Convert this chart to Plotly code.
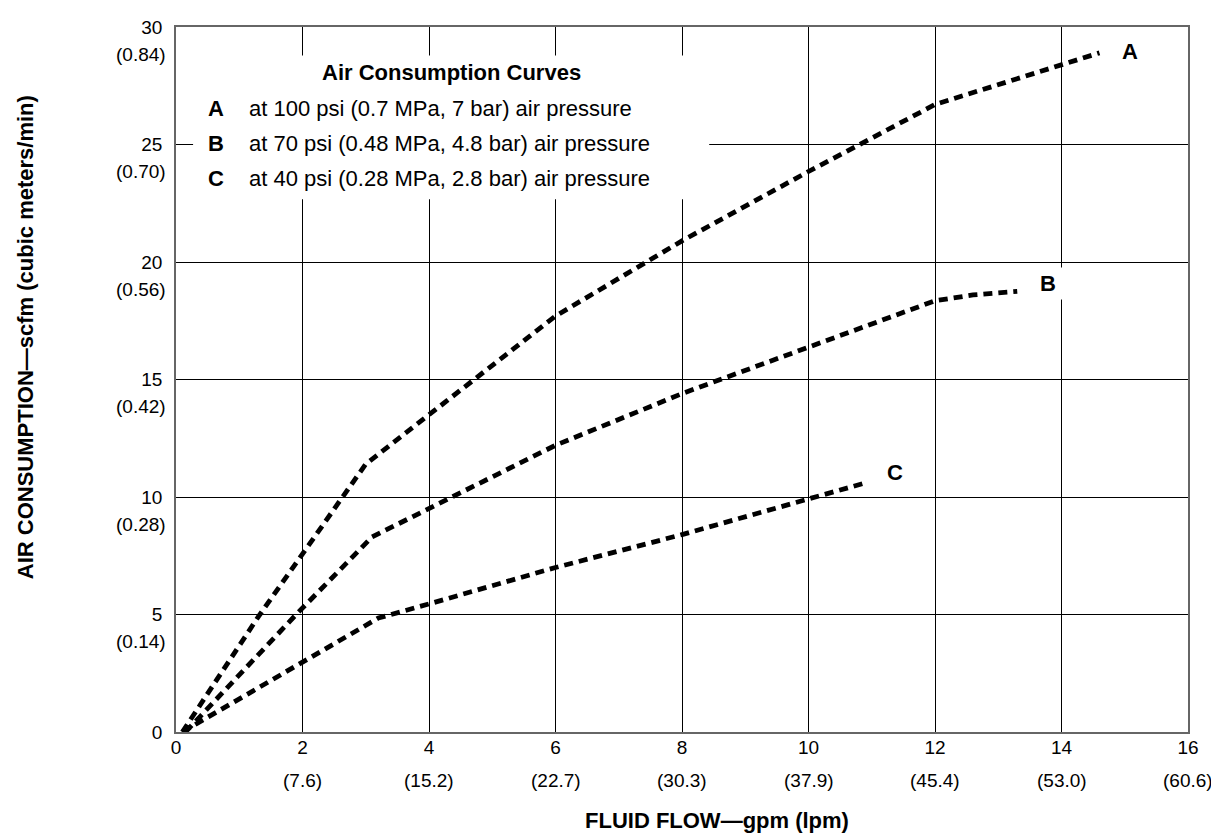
import plotly.graph_objects as go

# ---- data ----
flow_a = [0.1, 1.3, 3.0, 6.0, 8.0, 10.0, 12.0, 14.6]
air_a = [0.0, 4.9, 11.4, 17.7, 20.9, 23.85, 26.7, 28.9]

flow_b = [0.15, 1.9, 3.1, 4.0, 6.0, 8.0, 10.0, 12.0, 12.6, 13.3]
air_b = [0.0, 5.0, 8.3, 9.5, 12.2, 14.4, 16.35, 18.35, 18.6, 18.75]

flow_c = [0.1, 3.2, 4.0, 6.0, 8.0, 10.0, 10.9]
air_c = [0.0, 4.85, 5.45, 7.0, 8.4, 9.95, 10.6]

x_ticks = [0, 2, 4, 6, 8, 10, 12, 14, 16]
x_tick_labels = ["0", "2", "4", "6", "8", "10", "12", "14", "16"]
x_lpm_labels = ["", "(7.6)", "(15.2)", "(22.7)", "(30.3)", "(37.9)", "(45.4)", "(53.0)", "(60.6)"]

y_ticks = [0, 5, 10, 15, 20, 25, 30]
y_tick_labels = ["0", "5", "10", "15", "20", "25", "30"]
y_m3_labels = ["", "(0.14)", "(0.28)", "(0.42)", "(0.56)", "(0.70)", "(0.84)"]

curve_names = ["A", "B", "C"]
curve_desc = [
    "at 100 psi (0.7 MPa, 7 bar) air pressure",
    "at 70 psi (0.48 MPa, 4.8 bar) air pressure",
    "at 40 psi (0.28 MPa, 2.8 bar) air pressure",
]
legend_title = "Air Consumption Curves"
x_title = "FLUID FLOW\u2014gpm (lpm)"
y_title = "AIR CONSUMPTION\u2014scfm (cubic meters/min)"

FONT = "Liberation Sans, Arial, Helvetica, sans-serif"
TICK_SIZE = 19
TEXT_SIZE = 22

fig = go.Figure()
line_style = dict(color="black", width=4.8, dash="9px,6px")
for fx, fy, name in [(flow_a, air_a, "A"), (flow_b, air_b, "B"), (flow_c, air_c, "C")]:
    fig.add_trace(go.Scatter(x=fx, y=fy, mode="lines", line=line_style,
                             name=name, showlegend=False, hoverinfo="skip"))

annotations = []
# second-row tick labels (metric)
for xv, lab in zip(x_ticks, x_lpm_labels):
    if lab:
        annotations.append(dict(x=xv, y=0, xref="x", yref="paper", text=lab,
                                showarrow=False, yanchor="middle", xanchor="center",
                                yshift=-48, font=dict(size=TICK_SIZE, color="black", family=FONT)))
for yv, lab in zip(y_ticks, y_m3_labels):
    if lab:
        annotations.append(dict(x=0, y=yv, xref="paper", yref="y", text=lab,
                                showarrow=False, xanchor="right", yanchor="middle",
                                xshift=-8, yshift=-27,
                                font=dict(size=TICK_SIZE, color="black", family=FONT)))

# legend block
annotations.append(dict(x=4.36, y=28.08, xref="x", yref="y", text="<b>%s</b>" % legend_title,
                        showarrow=False, xanchor="center", yanchor="middle",
                        font=dict(size=TEXT_SIZE, color="black", family=FONT)))
legend_rows = [26.52, 25.04, 23.55]
for name, desc, ry in zip(curve_names, curve_desc, legend_rows):
    annotations.append(dict(x=0.63, y=ry, xref="x", yref="y", text="<b>%s</b>" % name,
                            showarrow=False, xanchor="center", yanchor="middle",
                            font=dict(size=TEXT_SIZE, color="black", family=FONT)))
    annotations.append(dict(x=1.118, y=ry, xref="x", yref="y", text=desc,
                            showarrow=False, xanchor="left", yanchor="middle",
                            font=dict(size=TEXT_SIZE, color="black", family=FONT)))

# curve end labels
label_pos = {"A": (15.08, 28.95), "B": (13.79, 19.09), "C": (11.37, 11.04)}
for name in curve_names:
    lx, ly = label_pos[name]
    annotations.append(dict(x=lx, y=ly, xref="x", yref="y", text="<b>%s</b>" % name,
                            showarrow=False, xanchor="center", yanchor="middle",
                            bgcolor="white", width=30, borderpad=3,
                            font=dict(size=TEXT_SIZE, color="black", family=FONT)))

# axis titles
annotations.append(dict(x=0.535, y=0, xref="paper", yref="paper", text="<b>%s</b>" % x_title,
                        showarrow=False, xanchor="center", yanchor="middle", yshift=-88,
                        font=dict(size=TEXT_SIZE, color="black", family=FONT)))
annotations.append(dict(x=0, y=0.56, xref="paper", yref="paper", text="<b>%s</b>" % y_title,
                        showarrow=False, xanchor="center", yanchor="middle", xshift=-151,
                        textangle=-90,
                        font=dict(size=TEXT_SIZE, color="black", family=FONT)))

# page body has an 8px margin, so the figure is made 8px smaller on each axis
fig.update_layout(
    width=1211, height=832,
    margin=dict(l=168, r=31, t=9, b=108),
    paper_bgcolor="white", plot_bgcolor="white",
    font=dict(family=FONT, color="black", size=TICK_SIZE),
    annotations=annotations,
    shapes=[dict(type="rect", xref="x", yref="y", x0=0.27, x1=8.43, y0=22.67, y1=28.79,
                 fillcolor="white", line=dict(width=0), layer="between")],
)
fig.update_xaxes(range=[0, 16], tickvals=x_ticks, ticktext=x_tick_labels,
                 showgrid=True, gridcolor="black", gridwidth=1,
                 showline=True, mirror=True, linecolor="#666666", linewidth=1.5,
                 ticks="", zeroline=False, ticklabelstandoff=-3,
                 tickfont=dict(size=TICK_SIZE, color="black", family=FONT))
fig.update_yaxes(range=[0, 30], tickvals=y_ticks, ticktext=y_tick_labels,
                 showgrid=True, gridcolor="black", gridwidth=1,
                 showline=True, mirror=True, linecolor="#666666", linewidth=1.5,
                 ticks="", zeroline=False, ticklabelstandoff=8,
                 tickfont=dict(size=TICK_SIZE, color="black", family=FONT))

fig.write_html("out.html")
